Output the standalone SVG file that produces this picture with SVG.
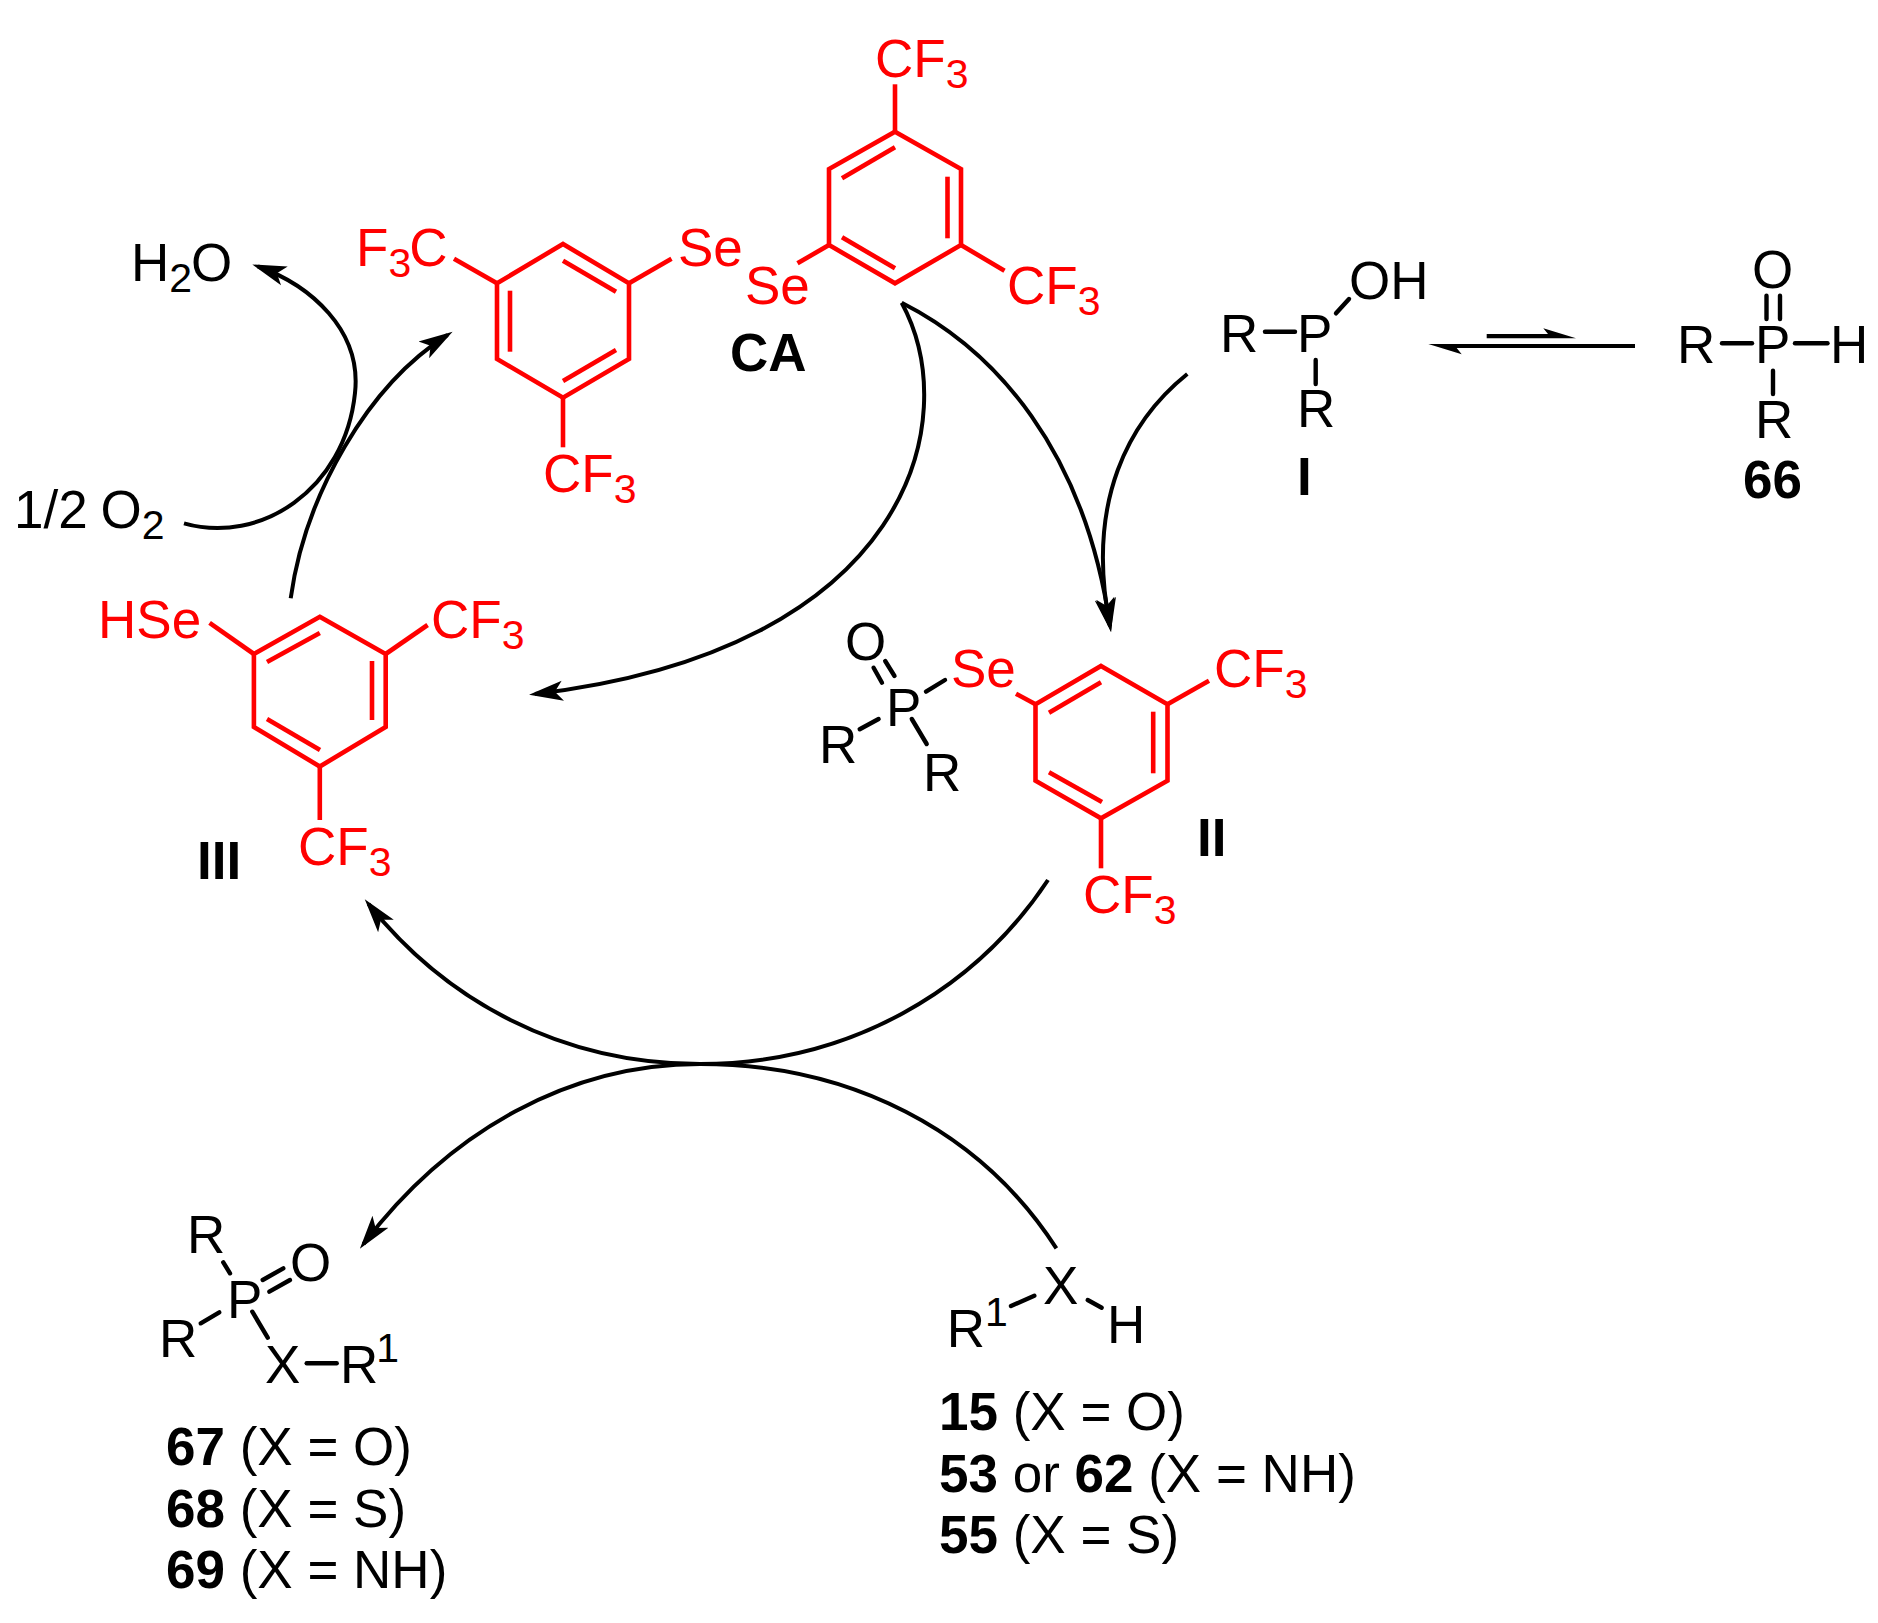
<svg xmlns="http://www.w3.org/2000/svg" width="1878" height="1623" viewBox="0 0 1878 1623">
<style>
text{font-family:"Liberation Sans",Arial,sans-serif;font-size:53px;fill:#000}
.r text,text.r{fill:#f00}
.bd{font-weight:bold;font-size:53px}
tspan.s{font-size:41px}
.bk line{stroke:#000;stroke-width:4.4;stroke-linecap:round}
.r polygon{fill:none;stroke:#f00;stroke-width:4.6;stroke-linejoin:miter}
.r line{stroke:#f00;stroke-width:4.6}
.cv{fill:none;stroke:#000;stroke-width:4;marker-end:url(#ah)}
</style>
<defs>
<marker id="ah" markerUnits="userSpaceOnUse" markerWidth="36" markerHeight="22" refX="28" refY="11" orient="auto"><path d="M34,11 L0,1 L8,11 L0,21 Z" fill="#000"/></marker>
</defs>
<rect width="1878" height="1623" fill="#fff"/>
<g id="connectors">
<path class="cv" d="M901.7,302.7 C995,350 1085,450 1110,626"/>
<path class="cv" d="M1187.3,374 C1130,420 1085,500 1110,626"/>
<path class="cv" d="M901.7,302.7 C965,420 910,650 535,694"/>
<path class="cv" d="M290.7,598.3 C305,495 368,385 447.5,335"/>
<path class="cv" d="M184,523.3 C260,545 345,490 355,393 C362,330 310,285 258,266.5"/>
<path class="cv" d="M1048,880 C975,990 850,1064 700,1064 C560,1064 445,1000 368.5,904"/>
<path class="cv" d="M1056.4,1248.3 C980,1130 850,1064 700,1064 C570,1064 450,1130 363.5,1244"/>
<g id="equilibrium">
<path d="M1486.7,334 H1548 L1543.3,328.3 L1576,338.3 H1486.7 Z" fill="#000"/>
<path d="M1635,344 H1428.3 L1461.7,354.3 L1456.7,348 H1635 Z" fill="#000"/>
</g>
</g>
<g id="CA" class="r">
<polygon points="563,244 629,283.3 629,359 563,397.7 497,359 497,283.3"/>
<line x1="563" y1="260.7" x2="616" y2="291.7"/><line x1="510" y1="290.7" x2="510" y2="351.7"/><line x1="563" y1="381" x2="616" y2="350"/>
<line x1="497" y1="283.3" x2="454" y2="258.7"/><line x1="629" y1="283.3" x2="671.5" y2="258.7"/><line x1="563" y1="397.7" x2="563" y2="447.3"/>
<polygon points="895,131.7 961,169 961,245 895,283.3 829,245 829,169"/>
<line x1="895" y1="147.3" x2="842" y2="178.3"/><line x1="947.5" y1="176.7" x2="947.5" y2="238.3"/><line x1="842" y1="237.3" x2="895" y2="268.3"/>
<line x1="895" y1="131.7" x2="895" y2="84.3"/><line x1="961" y1="245" x2="1004.5" y2="270.7"/><line x1="829" y1="245" x2="797.5" y2="263.3"/>
<text x="356" y="265.7">F<tspan class="s" dy="11">3</tspan><tspan dy="-11" dx="-2">C</tspan></text>
<text x="678" y="265.7">Se</text>
<text x="745" y="304">Se</text>
<text x="543" y="491.7">CF<tspan class="s" dy="11">3</tspan></text>
<text x="875" y="76.7">CF<tspan class="s" dy="11">3</tspan></text>
<text x="1007" y="304">CF<tspan class="s" dy="11">3</tspan></text>
<text class="bd" x="730" y="370.7" style="fill:#000">CA</text>
</g>
<g id="I" class="bk">
<line x1="1265" y1="331.7" x2="1295" y2="331.7"/><line x1="1336" y1="313.3" x2="1349" y2="299"/><line x1="1315.7" y1="360" x2="1315.7" y2="384"/>
<text x="1220" y="352.3">R</text><text x="1297" y="352.3">P</text><text x="1349" y="299">OH</text><text x="1297" y="427.3">R</text>
<text class="bd" x="1297" y="495">I</text>
</g>
<g id="c66" class="bk">
<line x1="1722" y1="343.3" x2="1752" y2="343.3"/><line x1="1795" y1="343.3" x2="1827.5" y2="343.3"/><line x1="1766.5" y1="295.7" x2="1766.5" y2="319"/><line x1="1780" y1="295.7" x2="1780" y2="319"/><line x1="1773" y1="370.7" x2="1773" y2="394"/>
<text x="1677" y="363.3">R</text><text x="1755" y="363.3">P</text><text x="1830" y="363.3">H</text><text x="1752" y="287.7">O</text><text x="1755" y="438.3">R</text>
<text class="bd" x="1743" y="498.3">66</text>
</g>
<g id="II">
<g class="r">
<polygon points="1101,666 1167.5,704.3 1167.5,780.7 1101,818.3 1035.5,780.7 1035.5,704.3"/>
<line x1="1101" y1="682.3" x2="1049" y2="712.7"/><line x1="1153.2" y1="711.7" x2="1153.2" y2="773.3"/><line x1="1049" y1="772.3" x2="1102" y2="802"/>
<line x1="1167.5" y1="704.3" x2="1209" y2="680.7"/><line x1="1035.5" y1="704.3" x2="1016" y2="693.7"/><line x1="1101" y1="818.3" x2="1101" y2="868.3"/>
<text x="951" y="687.3">Se</text>
<text x="1214" y="687.3">CF<tspan class="s" dy="11">3</tspan></text>
<text x="1083" y="913.3">CF<tspan class="s" dy="11">3</tspan></text>
</g>
<g class="bk">
<line x1="873.6" y1="667.7" x2="882" y2="682.7"/><line x1="885.2" y1="661" x2="894.5" y2="676"/><line x1="926" y1="691.7" x2="945" y2="680"/><line x1="859.7" y1="729.3" x2="878.6" y2="719"/><line x1="911.8" y1="719" x2="926.7" y2="744"/>
<text x="845" y="660">O</text><text x="886" y="725.7">P</text><text x="819" y="762.7">R</text><text x="923" y="790.7">R</text>
<text class="bd" x="1197" y="856">II</text>
</g>
</g>
<g id="III" class="r">
<polygon points="319.8,616.8 385.7,654 385.7,727 319.8,766.5 253.9,727 253.9,654"/>
<line x1="319.8" y1="633" x2="267" y2="662"/><line x1="372" y1="661" x2="372" y2="720"/><line x1="267" y1="719" x2="320" y2="750"/>
<line x1="385.7" y1="654" x2="427.6" y2="625"/><line x1="253.9" y1="654" x2="209.6" y2="622.8"/><line x1="319.8" y1="766.5" x2="319.8" y2="820"/>
<text x="98" y="638">HSe</text>
<text x="431" y="638">CF<tspan class="s" dy="11">3</tspan></text>
<text x="298" y="864.7">CF<tspan class="s" dy="11">3</tspan></text>
<text class="bd" x="197" y="879" style="fill:#000">III</text>
</g>
<g id="H2O"><text x="131" y="281">H<tspan class="s" dy="11">2</tspan><tspan dy="-11" dx="-1">O</tspan></text></g>
<g id="O2"><text x="14" y="528.3">1/2<tspan dx="-2"> O</tspan><tspan class="s" dy="11">2</tspan></text></g>
<g id="products" class="bk">
<line x1="223.3" y1="1262.3" x2="230" y2="1273.3"/><line x1="262.7" y1="1280" x2="283.3" y2="1268.3"/><line x1="269.3" y1="1291.7" x2="290" y2="1280"/><line x1="200.7" y1="1323.3" x2="219.3" y2="1312.3"/><line x1="252.3" y1="1311.7" x2="267.7" y2="1337.7"/><line x1="306.7" y1="1363.3" x2="336.7" y2="1363.3"/>
<text x="187" y="1253.3">R</text><text x="227" y="1318.3">P</text><text x="290" y="1281">O</text><text x="159" y="1356.7">R</text><text x="265" y="1383.3">X</text><text x="340" y="1383.3">R<tspan class="s" dy="-21" dx="-2">1</tspan></text>
<text x="166" y="1464.5"><tspan class="bd">67</tspan> (X = O)</text>
<text x="166" y="1526.5"><tspan class="bd">68</tspan> (X = S)</text>
<text x="166" y="1587.5"><tspan class="bd">69</tspan> (X = NH)</text>
</g>
<g id="reactant" class="bk">
<line x1="1011" y1="1306" x2="1034.3" y2="1295.7"/><line x1="1087.7" y1="1300" x2="1101.7" y2="1307.7"/>
<text x="946.7" y="1346.7">R<tspan class="s" dy="-21">1</tspan></text><text x="1043" y="1304.3">X</text><text x="1107" y="1342.7">H</text>
<text x="939" y="1429.5"><tspan class="bd">15</tspan> (X = O)</text>
<text x="939" y="1492"><tspan class="bd">53</tspan> or <tspan class="bd">62</tspan> (X = NH)</text>
<text x="939" y="1553"><tspan class="bd">55</tspan> (X = S)</text>
</g>
</svg>
